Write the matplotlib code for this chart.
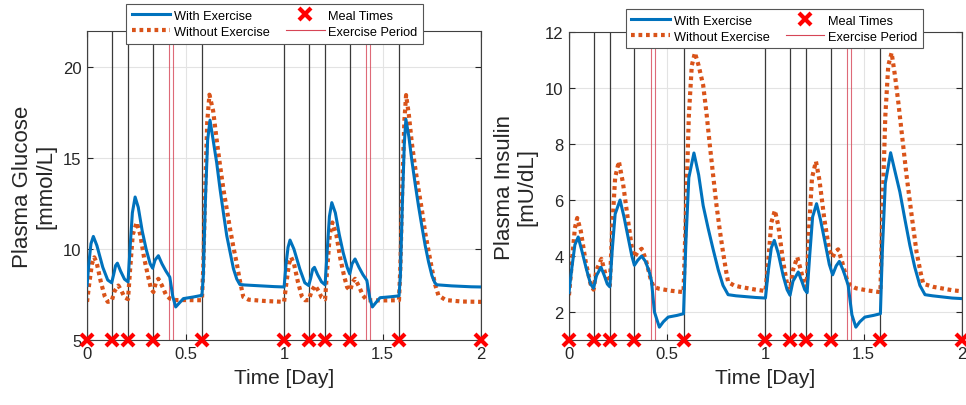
import numpy as np
import matplotlib
matplotlib.use("Agg")
import matplotlib.pyplot as plt
from matplotlib.lines import Line2D

plt.rcParams['font.family'] = ['Liberation Sans', 'DejaVu Sans']

# ---- data (time in days) ----
meal_times = [0.0, 0.125, 0.2083, 0.3333, 0.5833, 1.0, 1.125, 1.2083, 1.3333, 1.5833, 2.0]
exercise_bounds = [0.4167, 0.4375, 1.4167, 1.4375]

t_gluc_ex = [0.0, 0.01, 0.02, 0.032, 0.05, 0.08, 0.105, 0.125,
             0.135, 0.145, 0.154, 0.17, 0.19, 0.208,
             0.218, 0.23, 0.244, 0.26, 0.28, 0.30, 0.32, 0.333,
             0.345, 0.362, 0.38, 0.40, 0.42, 0.435, 0.45, 0.465, 0.489, 0.54, 0.583,
             0.59, 0.60, 0.612, 0.624, 0.64, 0.658, 0.675, 0.692, 0.709, 0.726, 0.743, 0.76, 0.775, 0.80, 0.85, 0.95, 1.0,
             1.01, 1.02, 1.03, 1.05, 1.08, 1.105, 1.125,
             1.135, 1.145, 1.154, 1.17, 1.19, 1.208,
             1.218, 1.23, 1.242, 1.26, 1.28, 1.30, 1.32, 1.333,
             1.345, 1.36, 1.38, 1.40, 1.42, 1.435, 1.448, 1.465, 1.487, 1.54, 1.583,
             1.59, 1.60, 1.61, 1.618, 1.633, 1.648, 1.665, 1.682, 1.70, 1.716, 1.733, 1.75, 1.765, 1.775, 1.85, 1.95, 2.0]
gluc_ex = [8.0, 9.3, 10.3, 10.7, 10.2, 9.0, 8.3, 8.15,
           8.6, 9.1, 9.23, 8.8, 8.35, 8.2,
           10.0, 12.0, 12.87, 12.3, 11.0, 10.0, 9.2, 8.95,
           9.4, 9.64, 9.2, 8.8, 8.46, 7.4, 6.82, 7.0, 7.28, 7.37, 7.46,
           8.5, 12.5, 16.0, 17.1, 16.0, 14.75, 13.3, 12.0, 10.74, 9.83, 8.92, 8.35, 8.06, 8.03, 8.0, 7.94, 7.92,
           9.2, 10.1, 10.5, 10.0, 8.9, 8.15, 8.0,
           8.4, 8.9, 9.0, 8.6, 8.2, 8.04,
           9.8, 11.8, 12.56, 12.0, 10.8, 9.8, 9.0, 8.64,
           9.2, 9.46, 9.0, 8.6, 8.28, 7.3, 6.82, 7.05, 7.33, 7.38, 7.43,
           8.5, 12.5, 15.8, 17.15, 16.2, 14.9, 13.6, 12.38, 11.2, 10.2, 9.3, 8.55, 8.15, 8.04, 7.98, 7.93, 7.92]

t_gluc_noex = [0.0, 0.01, 0.025, 0.037, 0.05, 0.07, 0.09, 0.105, 0.125,
               0.14, 0.159, 0.175, 0.19, 0.208,
               0.218, 0.232, 0.252, 0.27, 0.29, 0.31, 0.325, 0.337,
               0.35, 0.362, 0.38, 0.40, 0.42, 0.45, 0.5, 0.583,
               0.59, 0.60, 0.61, 0.621, 0.64, 0.658, 0.675, 0.692, 0.709, 0.726, 0.743, 0.76, 0.775, 0.793, 0.82, 0.9, 1.0,
               1.01, 1.025, 1.036, 1.05, 1.07, 1.09, 1.107, 1.125,
               1.14, 1.157, 1.175, 1.19, 1.208,
               1.218, 1.232, 1.245, 1.265, 1.285, 1.305, 1.32, 1.335,
               1.348, 1.36, 1.38, 1.40, 1.42, 1.5, 1.583,
               1.59, 1.60, 1.61, 1.619, 1.633, 1.648, 1.665, 1.682, 1.70, 1.716, 1.733, 1.75, 1.765, 1.783, 1.82, 1.9, 2.0]
gluc_noex = [7.1, 8.0, 9.2, 9.55, 9.2, 8.2, 7.4, 7.1, 7.15,
             7.7, 8.0, 7.7, 7.35, 7.25,
             8.8, 10.8, 11.47, 10.8, 9.5, 8.5, 7.8, 7.64,
             8.2, 8.37, 8.0, 7.5, 7.28, 7.2, 7.2, 7.19,
             9.0, 13.5, 17.0, 18.5, 17.6, 16.0, 14.6, 13.3, 12.2, 11.1, 10.1, 9.2, 8.3, 7.37, 7.22, 7.15, 7.1,
             8.0, 9.2, 9.55, 9.2, 8.2, 7.4, 7.19, 7.2,
             7.7, 8.0, 7.7, 7.35, 7.24,
             8.8, 10.8, 11.47, 10.8, 9.5, 8.5, 7.9, 7.73,
             8.2, 8.37, 7.95, 7.45, 7.19, 7.18, 7.19,
             9.0, 13.5, 17.0, 18.48, 17.4, 15.85, 14.5, 13.3, 12.1, 10.9, 9.9, 8.92, 8.1, 7.46, 7.2, 7.12, 7.1]

t_ins_ex = [0.0, 0.015, 0.03, 0.047, 0.065, 0.09, 0.11, 0.125,
            0.14, 0.163, 0.18, 0.195, 0.208,
            0.22, 0.235, 0.26, 0.28, 0.30, 0.32, 0.333,
            0.35, 0.37, 0.39, 0.41, 0.42, 0.435, 0.46, 0.48, 0.505, 0.55, 0.583,
            0.595, 0.61, 0.636, 0.66, 0.683, 0.708, 0.733, 0.76, 0.784, 0.81, 0.85, 0.95, 1.0,
            1.015, 1.03, 1.045, 1.065, 1.09, 1.11, 1.125,
            1.14, 1.167, 1.185, 1.2, 1.212,
            1.225, 1.24, 1.26, 1.28, 1.30, 1.325, 1.342,
            1.36, 1.376, 1.395, 1.41, 1.421, 1.44, 1.46, 1.48, 1.506, 1.55, 1.585,
            1.595, 1.61, 1.637, 1.66, 1.684, 1.71, 1.735, 1.76, 1.786, 1.812, 1.85, 1.95, 2.0]
ins_ex = [2.7, 3.6, 4.4, 4.68, 4.2, 3.5, 3.0, 2.85,
          3.3, 3.6, 3.3, 3.0, 2.9,
          4.2, 5.5, 6.0, 5.4, 4.7, 4.0, 3.67,
          3.85, 4.0, 3.8, 3.4, 3.1, 2.0, 1.46, 1.65, 1.82, 1.88, 1.94,
          4.5, 6.8, 7.68, 6.9, 5.8, 5.0, 4.26, 3.5, 2.95, 2.62, 2.58, 2.52, 2.5,
          3.5, 4.3, 4.56, 4.1, 3.3, 2.8, 2.6,
          3.1, 3.43, 3.1, 2.8, 2.69,
          4.0, 5.4, 5.87, 5.3, 4.6, 3.7, 3.33,
          3.65, 3.81, 3.5, 3.2, 2.95, 1.9, 1.46, 1.65, 1.82, 1.88, 1.94,
          4.2, 6.6, 7.69, 7.0, 6.29, 5.3, 4.38, 3.6, 2.95, 2.62, 2.58, 2.5, 2.48]

t_ins_noex = [0.0, 0.015, 0.03, 0.042, 0.06, 0.085, 0.11, 0.125,
              0.14, 0.165, 0.18, 0.197, 0.208,
              0.22, 0.235, 0.254, 0.275, 0.30, 0.32, 0.333,
              0.35, 0.37, 0.39, 0.415, 0.43, 0.46, 0.52, 0.583,
              0.595, 0.61, 0.625, 0.641, 0.66, 0.683, 0.70, 0.717, 0.735, 0.751, 0.768, 0.784, 0.80, 0.81, 0.84, 0.87, 0.95, 1.0,
              1.015, 1.03, 1.048, 1.065, 1.09, 1.11, 1.125,
              1.14, 1.162, 1.18, 1.197, 1.21,
              1.222, 1.237, 1.257, 1.275, 1.30, 1.325, 1.342,
              1.355, 1.37, 1.39, 1.415, 1.43, 1.46, 1.52, 1.585,
              1.595, 1.61, 1.625, 1.642, 1.66, 1.676, 1.70, 1.718, 1.745, 1.769, 1.79, 1.803, 1.854, 1.95, 2.0]
ins_noex = [2.6, 3.8, 5.0, 5.36, 4.9, 3.8, 3.0, 2.8,
            3.5, 3.9, 3.5, 3.05, 2.95,
            5.0, 6.8, 7.38, 6.6, 5.3, 4.3, 3.96,
            4.15, 4.26, 3.9, 3.2, 2.9, 2.83, 2.76, 2.71,
            5.5, 9.0, 10.8, 11.26, 10.8, 10.1, 9.1, 7.95, 6.8, 5.8, 4.9, 4.14, 3.45, 3.07, 2.95, 2.9, 2.8, 2.75,
            3.9, 5.2, 5.63, 5.1, 3.8, 3.0, 2.79,
            3.5, 3.96, 3.5, 3.0, 2.9,
            5.0, 6.8, 7.38, 6.7, 5.3, 4.2, 3.96,
            4.15, 4.24, 3.8, 3.15, 2.95, 2.85, 2.77, 2.71,
            5.5, 9.0, 10.8, 11.26, 10.4, 9.5, 8.0, 6.88, 5.4, 4.14, 3.4, 3.01, 2.9, 2.78, 2.74]

# ---- styles ----
BLUE = '#0072BD'
ORANGE = '#D95319'
MEAL_LINE = '#3a3a3a'
EX_LINE = '#D64556'
AX_COL = '#262626'
DOTS = (0, (0.9, 0.9))

fig = plt.figure(figsize=(9.66, 4.06), dpi=100)
ax1 = fig.add_axes([0.0901, 0.160, 0.408, 0.761])
ax2 = fig.add_axes([0.589, 0.160, 0.4068, 0.7586])


def draw_panel(ax, t_ex, y_ex, t_no, y_no, ylim, yticks, ylabel, leg_anchor):
    ax.set_xlim(0, 2)
    ax.set_ylim(*ylim)
    ax.grid(True, color='#e3e3e3', linewidth=0.8, zorder=0)
    ax.set_axisbelow(True)
    for m in meal_times:
        ax.axvline(m, color=MEAL_LINE, linewidth=0.9, zorder=1)
    for e in exercise_bounds:
        ax.axvline(e, color=EX_LINE, linewidth=0.8, alpha=0.8, zorder=1)
    ax.plot(t_ex, y_ex, color=BLUE, linewidth=2.2, zorder=3)
    ax.plot(t_no, y_no, color=ORANGE, linewidth=3.0, linestyle=DOTS, zorder=2)
    ax.plot(meal_times, [ylim[0]] * len(meal_times), linestyle='none', marker='x',
            color='#FF0000', markersize=8, markeredgewidth=3, clip_on=False, zorder=5)

    ax.set_xticks([0, 0.5, 1, 1.5, 2])
    ax.set_xticklabels(['0', '0.5', '1', '1.5', '2'])
    ax.set_yticks(yticks)
    ax.tick_params(direction='in', length=4, width=0.8, top=True, right=True,
                   labelsize=12, colors=AX_COL, pad=4)
    for s in ax.spines.values():
        s.set_color('#404040')
        s.set_linewidth(0.8)
    ax.set_xlabel('Time [Day]', fontsize=15, color=AX_COL, labelpad=5)
    ax.set_ylabel(ylabel, fontsize=16, color=AX_COL, labelpad=5, linespacing=1.1)

    handles = [
        Line2D([], [], color=BLUE, linewidth=2.2),
        Line2D([], [], color=ORANGE, linewidth=3.0, linestyle=DOTS),
        Line2D([], [], color='#FF0000', linestyle='none', marker='x', markersize=8, markeredgewidth=3),
        Line2D([], [], color=EX_LINE, linewidth=0.8),
    ]
    labels = ['With Exercise', 'Without Exercise', 'Meal Times', 'Exercise Period']
    leg = ax.legend(handles, labels, ncol=2, loc='upper center', bbox_to_anchor=leg_anchor,
                    fontsize=9.2, frameon=True, fancybox=False, edgecolor='#555555',
                    framealpha=1.0, handlelength=3.0, columnspacing=1.3, handletextpad=0.3,
                    borderpad=0.45, labelspacing=0.3, borderaxespad=0.0)
    leg.get_frame().set_linewidth(0.8)
    leg.set_zorder(10)


draw_panel(ax1, t_gluc_ex, gluc_ex, t_gluc_noex, gluc_noex, (5, 22), [5, 10, 15, 20],
           'Plasma Glucose\n[mmol/L]', (0.476, 1.087))
draw_panel(ax2, t_ins_ex, ins_ex, t_ins_noex, ins_noex, (1, 12), [2, 4, 6, 8, 10, 12],
           'Plasma Insulin\n[mU/dL]', (0.523, 1.075))

fig.savefig('out.png', dpi=100)
